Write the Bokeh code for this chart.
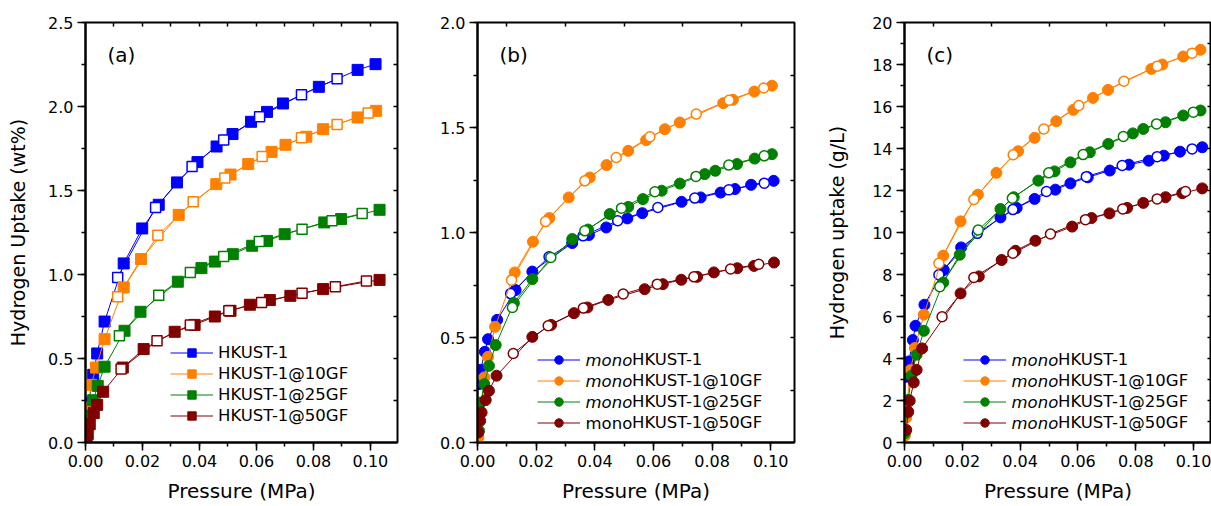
from bokeh.plotting import figure
from bokeh.models import (Range1d, LinearAxis, SingleIntervalTicker, FixedTicker,
                          PrintfTickFormatter, Legend, LegendItem, Label)
from bokeh.layouts import row
from bokeh.embed import file_html
from bokeh.resources import INLINE

FONT = "DejaVu Sans"
COLORS = ["#0000FF", "#FF8000", "#008000", "#800000"]

# ---------------- Panel (a): gravimetric uptake (wt%) ----------------
a_labels = ["HKUST-1", "HKUST-1@10GF", "HKUST-1@25GF", "HKUST-1@50GF"]
a0_ads_p = [0.0012, 0.0027, 0.0041, 0.0067, 0.0134, 0.0199, 0.0257, 0.0321, 0.0393, 0.0460, 0.0516, 0.0581, 0.0637, 0.0693, 0.0819, 0.0955, 0.1018]
a0_ads_u = [0.238, 0.403, 0.530, 0.720, 1.066, 1.274, 1.415, 1.548, 1.669, 1.762, 1.836, 1.909, 1.968, 2.018, 2.117, 2.218, 2.252]
a0_des_p = [0.0883, 0.0758, 0.0611, 0.0485, 0.0374, 0.0246, 0.0113]
a0_des_u = [2.165, 2.070, 1.939, 1.800, 1.643, 1.399, 0.982]
a1_ads_p = [0.0009, 0.0020, 0.0037, 0.0067, 0.0134, 0.0195, 0.0327, 0.0459, 0.0509, 0.0571, 0.0653, 0.0702, 0.0775, 0.0834, 0.0955, 0.1020]
a1_ads_u = [0.208, 0.343, 0.446, 0.615, 0.923, 1.092, 1.355, 1.538, 1.595, 1.657, 1.730, 1.772, 1.820, 1.865, 1.935, 1.974]
a1_des_p = [0.0992, 0.0883, 0.0758, 0.0620, 0.0489, 0.0378, 0.0254, 0.0113]
a1_des_u = [1.961, 1.893, 1.814, 1.702, 1.574, 1.433, 1.234, 0.867]
a2_ads_p = [0.0012, 0.0027, 0.0043, 0.0067, 0.0137, 0.0193, 0.0324, 0.0407, 0.0454, 0.0517, 0.0585, 0.0637, 0.0699, 0.0838, 0.0897, 0.1032]
a2_ads_u = [0.159, 0.252, 0.337, 0.451, 0.665, 0.778, 0.957, 1.038, 1.077, 1.121, 1.171, 1.200, 1.240, 1.310, 1.330, 1.385]
a2_des_p = [0.0971, 0.0865, 0.0760, 0.0610, 0.0485, 0.0368, 0.0257, 0.0119]
a2_des_u = [1.363, 1.320, 1.270, 1.196, 1.107, 1.012, 0.877, 0.635]
a3_ads_p = [0.0004, 0.0008, 0.0015, 0.0029, 0.0041, 0.0062, 0.0131, 0.0204, 0.0313, 0.0383, 0.0454, 0.0509, 0.0577, 0.0647, 0.0719, 0.0834, 0.1032]
a3_ads_u = [0.025, 0.050, 0.109, 0.175, 0.224, 0.302, 0.446, 0.556, 0.659, 0.700, 0.750, 0.784, 0.820, 0.848, 0.873, 0.913, 0.968]
a3_des_p = [0.0986, 0.0877, 0.0760, 0.0618, 0.0503, 0.0368, 0.0251, 0.0125]
a3_des_u = [0.962, 0.927, 0.889, 0.833, 0.784, 0.700, 0.605, 0.437]

# ---------------- Panel (b): monolith gravimetric (wt%) ----------------
b_labels = ["HKUST-1", "HKUST-1@10GF", "HKUST-1@25GF", "HKUST-1@50GF"]
b_prefix_italic = [True, True, True, False]
b0_ads_p = [0.0005, 0.0011, 0.0025, 0.0036, 0.0067, 0.0130, 0.0187, 0.0323, 0.0380, 0.0439, 0.0511, 0.0562, 0.0696, 0.0761, 0.0829, 0.0878, 0.0933, 0.1010]
b0_ads_u = [0.278, 0.346, 0.432, 0.492, 0.584, 0.726, 0.814, 0.950, 0.988, 1.024, 1.067, 1.092, 1.146, 1.167, 1.190, 1.207, 1.227, 1.246]
b0_des_p = [0.0978, 0.0857, 0.0741, 0.0615, 0.0478, 0.0360, 0.0244, 0.0113]
b0_des_u = [1.235, 1.203, 1.164, 1.119, 1.056, 0.984, 0.884, 0.709]
b1_ads_p = [0.0003, 0.0023, 0.0036, 0.0060, 0.0127, 0.0189, 0.0245, 0.0311, 0.0383, 0.0440, 0.0514, 0.0575, 0.0639, 0.0690, 0.0838, 0.0871, 0.0944, 0.1004]
b1_ads_u = [0.024, 0.310, 0.408, 0.551, 0.810, 0.956, 1.069, 1.167, 1.262, 1.321, 1.389, 1.440, 1.492, 1.524, 1.616, 1.632, 1.671, 1.699]
b1_des_p = [0.0976, 0.0858, 0.0746, 0.0588, 0.0473, 0.0366, 0.0232, 0.0116]
b1_des_u = [1.688, 1.630, 1.564, 1.456, 1.357, 1.246, 1.052, 0.773]
b2_ads_p = [0.0005, 0.0011, 0.0023, 0.0039, 0.0062, 0.0124, 0.0187, 0.0323, 0.0377, 0.0451, 0.0514, 0.0564, 0.0628, 0.0690, 0.0775, 0.0811, 0.0885, 0.0945, 0.1004]
b2_ads_u = [0.056, 0.190, 0.278, 0.365, 0.464, 0.664, 0.778, 0.969, 1.014, 1.088, 1.122, 1.159, 1.199, 1.233, 1.278, 1.294, 1.326, 1.352, 1.373]
b2_des_p = [0.0978, 0.0857, 0.0745, 0.0605, 0.0491, 0.0366, 0.0250, 0.0119]
b2_des_u = [1.365, 1.321, 1.267, 1.194, 1.116, 1.008, 0.881, 0.643]
b3_ads_p = [0.0003, 0.0009, 0.0014, 0.0028, 0.0039, 0.0065, 0.0187, 0.0251, 0.0329, 0.0375, 0.0446, 0.0570, 0.0632, 0.0695, 0.0749, 0.0806, 0.0886, 0.0943, 0.1011]
b3_ads_u = [0.048, 0.103, 0.143, 0.202, 0.246, 0.318, 0.503, 0.560, 0.616, 0.643, 0.679, 0.730, 0.754, 0.775, 0.789, 0.810, 0.830, 0.841, 0.857]
b3_des_p = [0.0959, 0.0863, 0.0738, 0.0613, 0.0497, 0.0361, 0.0241, 0.0122]
b3_des_u = [0.849, 0.826, 0.789, 0.754, 0.707, 0.640, 0.556, 0.424]

# ---------------- Panel (c): volumetric uptake (g/L) ----------------
c_labels = ["HKUST-1", "HKUST-1@10GF", "HKUST-1@25GF", "HKUST-1@50GF"]
c_prefix_italic = [True, True, True, True]
c0_ads_p = [0.0007, 0.0015, 0.0029, 0.0038, 0.0069, 0.0136, 0.0196, 0.0332, 0.0388, 0.0450, 0.0522, 0.0574, 0.0634, 0.0710, 0.0776, 0.0845, 0.0897, 0.0953, 0.1030]
c0_ads_u = [3.13, 3.86, 4.88, 5.56, 6.56, 8.21, 9.29, 10.72, 11.17, 11.60, 12.04, 12.34, 12.63, 12.95, 13.23, 13.42, 13.66, 13.85, 14.06]
c0_des_p = [0.0995, 0.0874, 0.0753, 0.0629, 0.0491, 0.0375, 0.0252, 0.0119]
c0_des_u = [13.98, 13.61, 13.19, 12.66, 11.95, 11.09, 9.96, 7.99]
c1_ads_p = [0.0001, 0.0006, 0.0007, 0.0021, 0.0036, 0.0067, 0.0134, 0.0194, 0.0254, 0.0318, 0.0393, 0.0450, 0.0525, 0.0584, 0.0652, 0.0704, 0.0854, 0.0892, 0.0964, 0.1024]
c1_ads_u = [0.32, 1.19, 1.59, 3.45, 4.50, 6.09, 8.90, 10.53, 11.80, 12.84, 13.87, 14.51, 15.30, 15.84, 16.41, 16.79, 17.79, 18.00, 18.38, 18.70]
c1_des_p = [0.0995, 0.0874, 0.0759, 0.0603, 0.0482, 0.0376, 0.0240, 0.0119]
c1_des_u = [18.54, 17.92, 17.20, 16.05, 14.93, 13.70, 11.57, 8.53]
c2_ads_p = [0.0001, 0.0007, 0.0013, 0.0024, 0.0042, 0.0067, 0.0134, 0.0191, 0.0332, 0.0378, 0.0463, 0.0519, 0.0574, 0.0641, 0.0705, 0.0790, 0.0826, 0.0903, 0.0964, 0.1024]
c2_ads_u = [0.45, 1.42, 2.03, 3.18, 4.18, 5.32, 7.62, 8.94, 11.12, 11.68, 12.47, 12.91, 13.34, 13.82, 14.22, 14.72, 14.93, 15.25, 15.57, 15.81]
c2_des_p = [0.0999, 0.0872, 0.0757, 0.0618, 0.0499, 0.0373, 0.0255, 0.0122]
c2_des_u = [15.73, 15.17, 14.57, 13.71, 12.84, 11.63, 10.12, 7.42]
c3_ads_p = [0.0006, 0.0013, 0.0018, 0.0032, 0.0042, 0.0061, 0.0194, 0.0257, 0.0336, 0.0384, 0.0453, 0.0580, 0.0647, 0.0709, 0.0770, 0.0826, 0.0903, 0.0961, 0.1030]
c3_ads_u = [0.60, 1.46, 1.99, 2.86, 3.46, 4.48, 7.10, 7.91, 8.69, 9.13, 9.61, 10.28, 10.69, 10.91, 11.17, 11.41, 11.68, 11.87, 12.10]
c3_des_p = [0.0972, 0.0874, 0.0755, 0.0626, 0.0505, 0.0375, 0.0240, 0.0130]
c3_des_u = [11.95, 11.60, 11.12, 10.61, 9.93, 9.01, 7.86, 5.99]

x_title = "Pressure (MPa)"
a_ytitle = "Hydrogen Uptake (wt%)"
c_ytitle = "Hydrogen uptake (g/L)"


def style_axis(ax, fmt, ticker):
    ax.ticker = ticker
    ax.formatter = PrintfTickFormatter(format=fmt)
    ax.axis_line_color = "black"
    ax.axis_line_width = 2
    ax.major_tick_line_color = "black"
    ax.major_tick_line_width = 1.5
    ax.minor_tick_line_color = "black"
    ax.minor_tick_line_width = 1.5
    ax.major_tick_in = 0
    ax.major_tick_out = 8
    ax.minor_tick_in = 0
    ax.minor_tick_out = 4
    ax.major_label_text_font = FONT
    ax.major_label_text_font_size = "16px"
    ax.major_label_text_color = "black"
    ax.major_label_standoff = 4
    ax.axis_label_text_font = FONT
    ax.axis_label_text_font_style = "normal"
    ax.axis_label_text_color = "black"


def mirror_axis(ticks):
    ax = LinearAxis(ticker=FixedTicker(ticks=ticks))
    ax.axis_line_color = None
    ax.major_tick_in = 4
    ax.major_tick_out = 0
    ax.minor_tick_in = 0
    ax.minor_tick_out = 0
    ax.major_tick_line_color = "black"
    ax.major_tick_line_width = 1.5
    ax.major_label_text_font_size = "0px"
    ax.major_label_text_color = None
    ax.major_label_standoff = 0
    return ax


def make_panel(width, bl, br, x_end, y_end, y_int, y_fmt, right_ticks, top_ticks,
               series, marker, labels, prefix_italic, tag, ytitle, ytitle_standoff,
               legend_x, legend_y):
    p = figure(width=width, height=506, x_range=Range1d(0, x_end), y_range=Range1d(0, y_end),
               output_backend="svg", toolbar_location=None,
               min_border_left=bl, min_border_right=br, min_border_top=22, min_border_bottom=64)
    p.grid.visible = False
    p.outline_line_color = "black"
    p.outline_line_width = 2
    p.border_fill_color = "white"
    p.background_fill_color = "white"

    style_axis(p.xaxis[0], "%.2f", SingleIntervalTicker(interval=0.02, num_minor_ticks=2))
    style_axis(p.yaxis[0], y_fmt, SingleIntervalTicker(interval=y_int, num_minor_ticks=2))
    p.xaxis[0].axis_label = x_title
    p.xaxis[0].axis_label_text_font_size = "20px"
    p.xaxis[0].axis_label_standoff = 9
    if ytitle:
        p.yaxis[0].axis_label = ytitle
        p.yaxis[0].axis_label_text_font_size = "19px"
        p.yaxis[0].axis_label_standoff = ytitle_standoff
    p.add_layout(mirror_axis(top_ticks), "above")
    p.add_layout(mirror_axis(right_ticks), "right")

    items = []
    for i, (ap, au, dp, du) in enumerate(series):
        c = COLORS[i]
        lr = p.line(ap, au, line_color=c, line_width=1)
        sr = p.scatter(ap, au, marker=marker, size=11, fill_color=c, line_color=c, line_width=1)
        p.line(dp, du, line_color=c, line_width=1)
        p.scatter(dp, du, marker=marker, size=10, fill_color="white", line_color=c, line_width=1.5)
        items.append(LegendItem(label=labels[i], renderers=[lr, sr]))

    row_h = 21
    glyph_w = 43
    mono_w = 47 if prefix_italic is not None else 0
    leg = Legend(items=items, location=(legend_x, legend_y), orientation="vertical",
                 glyph_width=glyph_w, glyph_height=row_h, label_height=row_h, spacing=0,
                 padding=0, margin=0, label_standoff=5 + mono_w,
                 border_line_color=None, background_fill_alpha=0,
                 label_text_font=FONT, label_text_font_size="16.5px", label_text_color="black")
    p.add_layout(leg)

    if prefix_italic is not None:
        n = len(labels)
        for i, it in enumerate(prefix_italic):
            yc = legend_y + (n - i - 0.5) * row_h
            p.add_layout(Label(x=legend_x + glyph_w + 5, y=yc, x_units="screen", y_units="screen",
                               text="mono", text_font=FONT, text_font_size="16.5px",
                               text_font_style="italic" if it else "normal",
                               text_align="left", text_baseline="middle", text_color="black"))

    p.add_layout(Label(x=22, y=388, x_units="screen", y_units="screen", text=tag,
                       text_font=FONT, text_font_size="20px", text_align="left",
                       text_baseline="middle", text_color="black"))
    return p


odd_ticks = [0.01, 0.03, 0.05, 0.07, 0.09]
all_ticks = [0.01 * k for k in range(1, 11)]

pa = make_panel(412, 85, 15, 0.1095, 2.5, 0.5, "%.1f", [0.25 * k for k in range(1, 10)], all_ticks,
                [(a0_ads_p, a0_ads_u, a0_des_p, a0_des_u), (a1_ads_p, a1_ads_u, a1_des_p, a1_des_u),
                 (a2_ads_p, a2_ads_u, a2_des_p, a2_des_u), (a3_ads_p, a3_ads_u, a3_des_p, a3_des_u)],
                "square", a_labels, None, "(a)", a_ytitle, 16, 85, 16)
pb = make_panel(397, 65, 15, 0.1081, 2.0, 0.5, "%.1f", [0.25 * k for k in range(1, 8)], odd_ticks,
                [(b0_ads_p, b0_ads_u, b0_des_p, b0_des_u), (b1_ads_p, b1_ads_u, b1_des_p, b1_des_u),
                 (b2_ads_p, b2_ads_u, b2_des_p, b2_des_u), (b3_ads_p, b3_ads_u, b3_des_p, b3_des_u)],
                "circle", b_labels, b_prefix_italic, "(b)", None, 0, 60, 9)
pc = make_panel(402, 95, 0, 0.1062, 20, 2, "%d", list(range(1, 20)), odd_ticks,
                [(c0_ads_p, c0_ads_u, c0_des_p, c0_des_u), (c1_ads_p, c1_ads_u, c1_des_p, c1_des_u),
                 (c2_ads_p, c2_ads_u, c2_des_p, c2_des_u), (c3_ads_p, c3_ads_u, c3_des_p, c3_des_u)],
                "circle", c_labels, c_prefix_italic, "(c)", c_ytitle, 21, 59, 9)

layout = row(pa, pb, pc)
open("out.html", "w").write(file_html(layout, INLINE))
